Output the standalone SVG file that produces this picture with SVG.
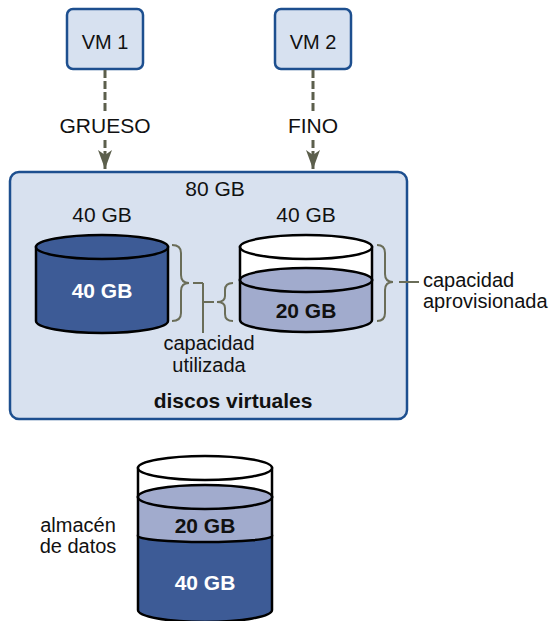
<svg xmlns="http://www.w3.org/2000/svg" width="557" height="621" viewBox="0 0 557 621">
<defs>
<style>
text{font-family:"Liberation Sans",Arial,sans-serif;font-size:20px;fill:#111}
.c{text-anchor:middle}
.g{font-size:21px}
.b{font-weight:bold;font-size:21px}
.w{fill:#fff}
.vm{fill:#d7e1f0;stroke:#1d4f8f;stroke-width:2.5}
.dash{stroke:#5c5f4c;stroke-width:3;stroke-dasharray:8 3;fill:none}
.brace{stroke:#6a6d58;stroke-width:2;fill:none}
.cyl{stroke:#000;stroke-width:2.5}
.dark{fill:#3d5b96}
.light{fill:#a1abcd}
.empty{fill:#fff}
</style>
<marker id="ah" viewBox="0 0 19 14" refX="19" refY="7" markerWidth="19" markerHeight="14" markerUnits="userSpaceOnUse" orient="auto">
<path d="M0 0 L5 7 L0 14 L19 7 Z" fill="#5c5f4c"/>
</marker>
</defs>
<rect width="557" height="621" fill="#fff"/>

<g id="vm1">
<rect class="vm" x="67" y="9" width="76" height="60" rx="6"/>
<text class="c" x="105" y="49">VM 1</text>
</g>
<g id="vm2">
<rect class="vm" x="275" y="9" width="76" height="60" rx="6"/>
<text class="c" x="313" y="49">VM 2</text>
</g>

<g id="discos-virtuales">
<rect x="10" y="172" width="397" height="247" rx="9" fill="#d8e1ef" stroke="#1d4f8f" stroke-width="2.5"/>
<text class="c g" x="215" y="196">80 GB</text>
<text class="c b" x="233" y="408">discos virtuales</text>
</g>

<g id="disco-grueso">
<text class="c g" x="102" y="222">40 GB</text>
<path class="cyl dark" d="M36 247 L36 321 A66 12 0 0 0 168 321 L168 247 Z"/>
<ellipse class="cyl dark" cx="102" cy="247" rx="66" ry="12"/>
<text class="c b w" x="102" y="298">40 GB</text>
</g>

<g id="disco-fino">
<text class="c g" x="306" y="222">40 GB</text>
<path class="cyl empty" d="M240 247 L240 280 L372 280 L372 247 Z"/>
<ellipse class="cyl empty" cx="306" cy="247" rx="66" ry="12"/>
<path class="cyl light" d="M240 280 L240 320 A66 12 0 0 0 372 320 L372 280 Z"/>
<ellipse class="cyl light" cx="306" cy="280" rx="66" ry="12"/>
<text class="c b" x="306" y="318">20 GB</text>
</g>

<g id="almacen-datos">
<path class="cyl empty" d="M138 468 L138 497 L272 497 L272 468 Z"/>
<ellipse class="cyl empty" cx="205" cy="468" rx="67" ry="12"/>
<path class="cyl dark" d="M138 536 L138 610 A67 12 0 0 0 272 610 L272 536 Z"/>
<path class="cyl light" d="M138 497 L138 536 A67 6 0 0 0 272 536 L272 497 Z"/>
<ellipse class="cyl light" cx="205" cy="497" rx="67" ry="12"/>
<text class="c b" x="205" y="533">20 GB</text>
<text class="c b w" x="205" y="590">40 GB</text>
<text class="c" x="78" y="532">almacén</text>
<text class="c" x="78" y="553">de datos</text>
</g>

<g id="capacidad-utilizada">
<path class="brace" d="M172 245 Q181 245 181 253 L181 275 Q181 283 189 283 Q181 283 181 291 L181 313 Q181 321 172 321"/>
<path class="brace" d="M233 283 Q225 283 225 290 L225 296 Q225 302 217 302 Q225 302 225 308 L225 314 Q225 321 233 321"/>
<path class="brace" d="M193 283 L203 283 M203 283 L203 333 M203 302 L214 302"/>
<text class="c" x="209" y="350">capacidad</text>
<text class="c" x="209" y="372">utilizada</text>
</g>

<g id="capacidad-aprovisionada">
<path class="brace" d="M377 245 Q385 245 385 253 L385 274 Q385 282 393 282 Q385 282 385 290 L385 313 Q385 321 377 321"/>
<path class="brace" d="M399 282 L419 282"/>
<text x="423" y="287">capacidad</text>
<text x="423" y="308">aprovisionada</text>
</g>

<g id="connectors">
<path class="dash" d="M105 70 L105 112"/>
<path class="dash" d="M105 140 L105 169" marker-end="url(#ah)"/>
<text class="c g" x="105" y="133">GRUESO</text>
<path class="dash" d="M313 70 L313 112"/>
<path class="dash" d="M313 140 L313 169" marker-end="url(#ah)"/>
<text class="c g" x="313" y="133">FINO</text>
</g>
</svg>
